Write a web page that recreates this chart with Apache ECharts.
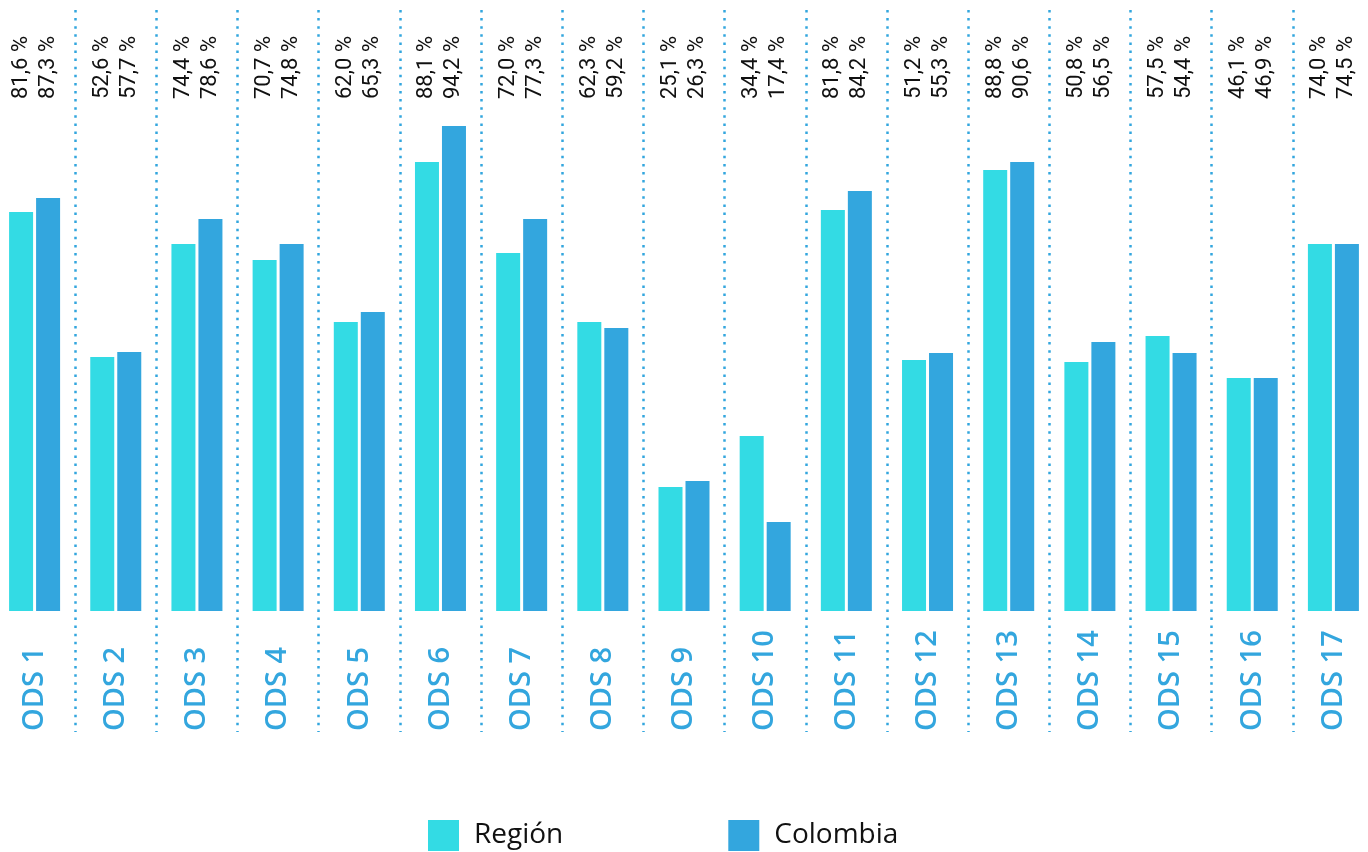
<!DOCTYPE html>
<html>
<head>
<meta charset="utf-8">
<title>ODS Región vs Colombia</title>
<script src="https://cdn.jsdelivr.net/npm/echarts@6/dist/echarts.min.js"></script>
<style>
  html, body { margin: 0; padding: 0; background: #fff; }
  #chart { width: 1368px; height: 852px; }
</style>
</head>
<body>
<div id="chart"></div>
<script>
// categorías
var categories = ['ODS 1', 'ODS 2', 'ODS 3', 'ODS 4', 'ODS 5', 'ODS 6', 'ODS 7', 'ODS 8', 'ODS 9',
  'ODS 10', 'ODS 11', 'ODS 12', 'ODS 13', 'ODS 14', 'ODS 15', 'ODS 16', 'ODS 17'];

// porcentajes escritos sobre cada columna
var regionPct = [81.6, 52.6, 74.4, 70.7, 62.0, 88.1, 72.0, 62.3, 25.1, 34.4, 81.8, 51.2, 88.8, 50.8, 57.5, 46.1, 74.0];
var colombiaPct = [87.3, 57.7, 78.6, 74.8, 65.3, 94.2, 77.3, 59.2, 26.3, 17.4, 84.2, 55.3, 90.6, 56.5, 54.4, 46.9, 74.5];

// altura de las barras tal como aparecen dibujadas (en %)
var regionBar = [79.8, 50.8, 73.4, 70.2, 57.8, 89.8, 71.6, 57.8, 24.8, 35.0, 80.2, 50.2, 88.2, 49.8, 55.0, 46.6, 73.4];
var colombiaBar = [82.6, 51.8, 78.4, 73.4, 59.8, 97.0, 78.4, 56.6, 26.0, 17.8, 84.0, 51.6, 89.8, 53.8, 51.6, 46.6, 73.4];

var REGION = '#33dbe4';
var COLOMBIA = '#33a6de';

function pct(v) {
  return v.toFixed(1).replace('.', ',') + ' %';
}

var myChart = echarts.init(document.getElementById('chart'));

myChart.setOption({
  animation: false,
  backgroundColor: '#fff',
  legend: {
    left: 428,
    top: 820,
    padding: 0,
    itemWidth: 31,
    itemHeight: 31,
    itemGap: 165,
    icon: 'rect',
    textStyle: {
      fontFamily: 'Open Sans',
      fontSize: 28,
      color: '#111',
      padding: [0, 0, 0, 10]
    },
    data: ['Región', 'Colombia']
  },
  grid: {
    left: -6,
    width: 1380,
    top: 10,
    bottom: 120,
    outerBoundsMode: 'none'
  },
  xAxis: [{
    type: 'category',
    position: 'bottom',
    data: categories,
    axisLine: { show: false, onZero: false },
    axisTick: { show: false },
    axisLabel: {
      inside: true,
      rotate: 90,
      margin: 1,
      interval: 0,
      color: COLOMBIA,
      fontFamily: 'Open Sans',
      fontWeight: 600,
      fontSize: 29
    },
    splitLine: {
      show: true,
      interval: 0,
      lineStyle: { color: COLOMBIA, width: 2.5, type: [2.5, 5.6] }
    }
  }, {
    type: 'category',
    position: 'top',
    data: categories,
    axisLine: { show: false, onZero: false },
    axisTick: { show: false },
    axisLabel: {
      inside: true,
      rotate: -90,
      margin: 26,
      interval: 0,
      color: '#111',
      fontFamily: 'Roboto',
      fontSize: 22,
      lineHeight: 27,
      formatter: function (v, i) {
        return pct(regionPct[i]) + '\n' + pct(colombiaPct[i]);
      }
    }
  }],
  yAxis: {
    type: 'value',
    min: -24.2,
    max: 120.2,
    show: false,
    splitLine: { show: false }
  },
  series: [{
    name: 'Región',
    type: 'bar',
    barWidth: 24,
    barGap: '12.5%',
    itemStyle: { color: REGION },
    data: regionBar
  }, {
    name: 'Colombia',
    type: 'bar',
    barWidth: 24,
    barGap: '12.5%',
    itemStyle: { color: COLOMBIA },
    data: colombiaBar
  }]
});
</script>
</body>
</html>
